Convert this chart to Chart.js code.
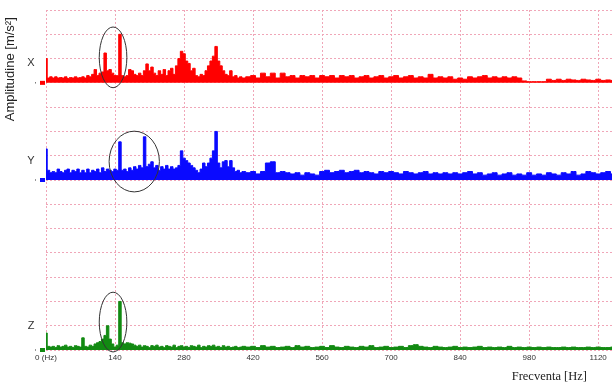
<!DOCTYPE html>
<html>
<head>
<meta charset="utf-8">
<script src="https://cdn.jsdelivr.net/npm/chart.js@4.4.1/dist/chart.umd.min.js"></script>
<style>
  html, body { margin: 0; padding: 0; background: #fff; }
  #container { width: 612px; height: 385px; position: relative; }
</style>
</head>
<body>
<div id="container"><canvas id="chart"></canvas></div>
<script>
// frequency bins [Hz]
const freqs = [
    0, 5, 10, 15, 20, 25, 30, 35, 40, 45,
    50, 55, 60, 65, 70, 75, 80, 85, 90, 95,
    100, 105, 110, 115, 120, 125, 130, 135, 140, 145,
    150, 155, 160, 165, 170, 175, 180, 185, 190, 195,
    200, 205, 210, 215, 220, 225, 230, 235, 240, 245,
    250, 255, 260, 265, 270, 275, 280, 285, 290, 295,
    300, 305, 310, 315, 320, 325, 330, 335, 340, 345,
    350, 355, 360, 365, 370, 375, 380, 385, 390, 395,
    400,
    410, 420, 430, 440, 450, 460, 470, 480, 490, 500,
    510, 520, 530, 540, 550, 560, 570, 580, 590, 600,
    610, 620, 630, 640, 650, 660, 670, 680, 690, 700,
    710, 720, 730, 740, 750, 760, 770, 780, 790, 800,
    810, 820, 830, 840, 850, 860, 870, 880, 890, 900,
    910, 920, 930, 940, 950, 960, 970, 980, 990, 1000,
    1010, 1020, 1030, 1040, 1050, 1060, 1070, 1080, 1090, 1100,
    1110, 1120, 1130, 1140, 1150
]

const ampX = [
    1.0, 0.2, 0.25, 0.2, 0.25, 0.2, 0.22, 0.2, 0.25, 0.18,
    0.22, 0.2, 0.25, 0.2, 0.22, 0.25, 0.2, 0.3, 0.25, 0.35,
    0.55, 0.3, 0.4, 0.45, 1.23, 0.5, 0.55, 0.4, 0.3, 0.3,
    2.0, 0.3, 0.25, 0.3, 0.55, 0.5, 0.35, 0.3, 0.4, 0.3,
    0.5, 0.78, 0.5, 0.65, 0.4, 0.3, 0.5, 0.35, 0.55, 0.3,
    0.5, 0.6, 0.35, 0.7, 1.0, 1.3, 1.2, 0.9, 0.8, 0.5,
    0.6, 0.3, 0.25, 0.35, 0.3, 0.5, 0.7, 0.9, 1.1, 1.5,
    0.9, 0.7, 0.5, 0.35, 0.3, 0.5, 0.25, 0.3, 0.2, 0.25,
    0.2,
    0.25, 0.3, 0.2, 0.4, 0.25, 0.4, 0.2, 0.4, 0.25, 0.3,
    0.2, 0.3, 0.25, 0.3, 0.2, 0.3, 0.25, 0.3, 0.2, 0.3,
    0.25, 0.3, 0.2, 0.25, 0.3, 0.2, 0.25, 0.3, 0.2, 0.25,
    0.3, 0.2, 0.25, 0.3, 0.2, 0.25, 0.2, 0.35, 0.2, 0.25,
    0.2, 0.25, 0.15, 0.2, 0.15, 0.25, 0.2, 0.25, 0.3, 0.2,
    0.25, 0.2, 0.25, 0.2, 0.25, 0.2, 0.08, 0.05, 0.05, 0.05,
    0.05, 0.15, 0.1, 0.15, 0.1, 0.15, 0.12, 0.1, 0.15, 0.12,
    0.1, 0.15, 0.1, 0.12, 0.1
]

const ampY = [
    1.28, 0.4, 0.3, 0.35, 0.3, 0.45, 0.35, 0.3, 0.4, 0.45,
    0.3, 0.4, 0.35, 0.45, 0.3, 0.4, 0.3, 0.45, 0.3, 0.4,
    0.35, 0.45, 0.3, 0.5, 0.35, 0.45, 0.4, 0.35, 0.45, 0.4,
    1.57, 0.4, 0.45, 0.35, 0.5, 0.4, 0.55, 0.45, 0.6, 0.5,
    1.78, 0.55, 0.65, 0.75, 0.5, 0.6, 0.4, 0.55, 0.45, 0.6,
    0.45, 0.55, 0.45, 0.5, 0.6, 1.2, 0.9, 0.8, 0.7, 0.6,
    0.5, 0.4, 0.3, 0.45, 0.7, 0.55, 0.7, 0.9, 1.2, 2.0,
    0.7, 0.5, 0.75, 0.8, 0.55, 0.8, 0.5, 0.35, 0.4, 0.3,
    0.35,
    0.3, 0.35, 0.25, 0.35, 0.7, 0.75, 0.3, 0.35, 0.3, 0.25,
    0.3, 0.2, 0.3, 0.25, 0.2, 0.35, 0.4, 0.3, 0.35, 0.4,
    0.3, 0.35, 0.4, 0.3, 0.35, 0.3, 0.25, 0.35, 0.3, 0.35,
    0.3, 0.25, 0.35, 0.3, 0.25, 0.3, 0.35, 0.25, 0.3, 0.25,
    0.3, 0.25, 0.3, 0.25, 0.3, 0.35, 0.25, 0.3, 0.2, 0.25,
    0.3, 0.2, 0.25, 0.3, 0.2, 0.25, 0.2, 0.3, 0.2, 0.25,
    0.2, 0.3, 0.25, 0.2, 0.3, 0.25, 0.35, 0.2, 0.25, 0.35,
    0.3, 0.25, 0.3, 0.35, 0.25
]

const ampZ = [
    0.7, 0.15, 0.12, 0.15, 0.1, 0.18, 0.12, 0.15, 0.2, 0.12,
    0.15, 0.1, 0.18, 0.15, 0.12, 0.5, 0.15, 0.12, 0.2, 0.15,
    0.25, 0.3, 0.35, 0.45, 0.6, 1.0, 0.45, 0.25, 0.12, 0.2,
    2.0, 0.3, 0.25, 0.3, 0.28, 0.25, 0.2, 0.15, 0.2, 0.12,
    0.18, 0.15, 0.1, 0.18, 0.15, 0.2, 0.12, 0.15, 0.1, 0.18,
    0.15, 0.12, 0.2, 0.1, 0.15, 0.18, 0.12, 0.15, 0.1, 0.18,
    0.15, 0.12, 0.2, 0.1, 0.15, 0.12, 0.18, 0.15, 0.2, 0.12,
    0.15, 0.1, 0.18, 0.12, 0.15, 0.1, 0.12, 0.15, 0.1, 0.12,
    0.15,
    0.12, 0.15, 0.1, 0.18, 0.12, 0.15, 0.1, 0.12, 0.15, 0.1,
    0.18, 0.12, 0.15, 0.1, 0.12, 0.15, 0.1, 0.18, 0.12, 0.1,
    0.15, 0.12, 0.1, 0.15, 0.12, 0.18, 0.1, 0.12, 0.15, 0.1,
    0.12, 0.15, 0.1, 0.18, 0.22, 0.15, 0.12, 0.1, 0.15, 0.12,
    0.1, 0.12, 0.15, 0.1, 0.12, 0.1, 0.12, 0.15, 0.1, 0.12,
    0.1, 0.12, 0.1, 0.15, 0.1, 0.12, 0.1, 0.12, 0.1, 0.12,
    0.1, 0.12, 0.1, 0.1, 0.12, 0.1, 0.12, 0.1, 0.1, 0.12,
    0.1, 0.12, 0.1, 0.1, 0.12
]

const seriesNames = ['X', 'Y', 'Z']
const tickStep = 140

// layout of the three traces (grid rows from bottom) and the marked peaks
const baselines = [11, 7, 0]
const labelRows = [11.8, 7.8, 1.0]
const colors = ['#ff0000', '#0a0aff', '#128a12']
const circles = [
    {f: 136, df: 28, row: 12.05, dr: 1.25},
    {f: 179, df: 51, row: 7.76, dr: 1.25},
    {f: 136, df: 28, row: 1.15, dr: 1.23}
]

const datasetsGenerator = (amps, base, color) => {
    return {
        data: freqs.map((f, i) => ({x: f, y: base + amps[i]})),
        borderColor: color,
        backgroundColor: color,
        borderWidth: 1,
        pointRadius: 0,
        stepped: 'middle',
        fill: {value: base}
    }
}

const extras = {
    id: 'extras',
    afterDatasetsDraw(chart) {
        const {ctx, scales: {x, y}, chartArea} = chart
        ctx.save()
        // ellipses round the marked peaks
        ctx.strokeStyle = '#333'
        ctx.lineWidth = 1
        circles.forEach(c => {
            const cx = x.getPixelForValue(c.f)
            const cy = y.getPixelForValue(c.row)
            const rx = x.getPixelForValue(c.f + c.df) - cx
            const ry = cy - y.getPixelForValue(c.row + c.dr)
            ctx.beginPath()
            ctx.ellipse(cx, cy, rx, ry, 0, 0, Math.PI * 2)
            ctx.stroke()
        })
        // axis names and baseline markers
        ctx.font = '11px "Liberation Sans", Arial, sans-serif'
        ctx.textAlign = 'center'
        ctx.textBaseline = 'middle'
        seriesNames.forEach((name, i) => {
            ctx.fillStyle = '#333'
            ctx.fillText(name, chartArea.left - 15, y.getPixelForValue(labelRows[i]))
            const by = y.getPixelForValue(baselines[i])
            ctx.fillRect(chartArea.left - 11, by - 0.5, 1, 1)
            ctx.fillStyle = colors[i]
            ctx.fillRect(chartArea.left - 6, by - 2, 5, 4)
        })
        ctx.restore()
    }
}

const ctx = document.getElementById('chart').getContext('2d')
new Chart(ctx, {
    type: 'line',
    data: {
        datasets: [
            datasetsGenerator(ampX, baselines[0], colors[0]),
            datasetsGenerator(ampY, baselines[1], colors[1]),
            datasetsGenerator(ampZ, baselines[2], colors[2])
        ]
    },
    options: {
        responsive: true,
        maintainAspectRatio: false,
        animation: false,
        layout: {padding: {top: 10, left: 0, right: 0, bottom: 0}},
        plugins: {legend: {display: false}, tooltip: {enabled: false}},
        scales: {
            x: {
                type: 'linear',
                min: 0,
                max: 1148,
                afterFit: (scale) => { scale.height = 35 },
                grid: {color: '#f0a6b8', drawTicks: false},
                border: {display: false, dash: [2, 2]},
                ticks: {
                    stepSize: tickStep,
                    includeBounds: false,
                    autoSkip: false,
                    maxRotation: 0,
                    padding: 3,
                    color: '#333',
                    font: {size: 8, family: '"Liberation Sans", Arial, sans-serif'},
                    callback: (v) => v === 0 ? '0 (Hz)' : v
                },
                title: {
                    display: true,
                    text: 'Frecventa [Hz]        ',
                    align: 'end',
                    color: '#222',
                    padding: {top: 0, bottom: 1},
                    font: {size: 12.5, family: '"Liberation Serif", "Times New Roman", serif'}
                }
            },
            y: {
                min: 0,
                max: 14,
                afterFit: (scale) => { scale.width = 46 },
                grid: {color: '#f0a6b8', drawTicks: false},
                border: {display: false, dash: [2, 2]},
                ticks: {display: false, stepSize: 1},
                title: {
                    display: true,
                    text: 'Amplitudine [m/s²]  ',
                    align: 'end',
                    color: '#222',
                    padding: {top: 3, bottom: 0},
                    font: {size: 13, family: '"Liberation Sans", Arial, sans-serif'}
                }
            }
        }
    },
    plugins: [extras]
})
</script>
</body>
</html>
